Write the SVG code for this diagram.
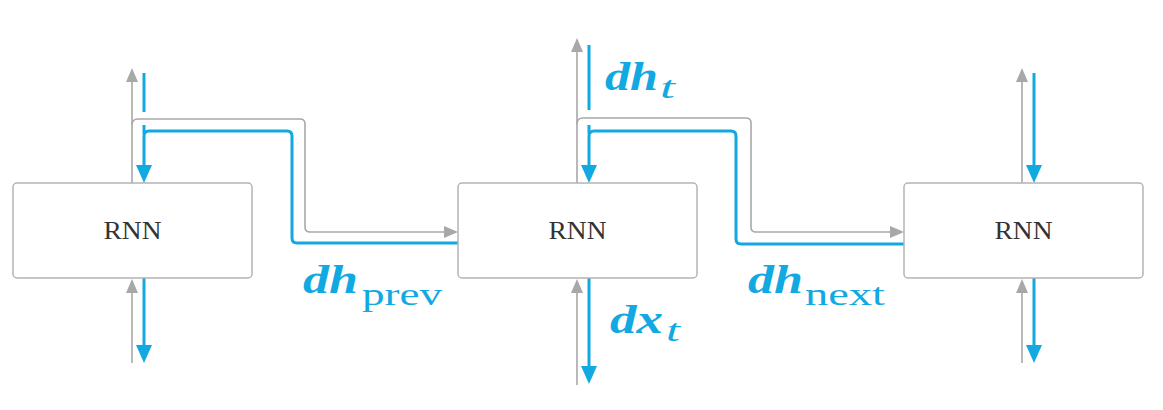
<svg xmlns="http://www.w3.org/2000/svg" width="1163" height="410" viewBox="0 0 1163 410">
<defs>
<marker id="ab" markerUnits="userSpaceOnUse" markerWidth="20" markerHeight="18" refX="1" refY="8" orient="auto"><path d="M0,0 L18,8 L0,16 Z" fill="#12A9E2"/></marker>
<marker id="ag" markerUnits="userSpaceOnUse" markerWidth="16" markerHeight="14" refX="1" refY="6" orient="auto"><path d="M0,0 L14,6 L0,12 Z" fill="#A8A8A8"/></marker>
</defs>
<style>
.box{fill:#fff;stroke:#B4B4B4;stroke-width:1.5}
.lbl{font-family:"Liberation Serif",serif;font-size:26px;fill:#333;text-anchor:middle}
.g{fill:none;stroke:#A8A8A8;stroke-width:1.6}
.b{fill:none;stroke:#12A9E2;stroke-width:3}
.gm{marker-end:url(#ag)}
.bm{marker-end:url(#ab)}
.m{font-family:"Liberation Serif",serif;font-size:40px;font-weight:bold;font-style:italic;fill:#12A9E2}
.s{font-family:"Liberation Serif",serif;font-size:31px;fill:#12A9E2}
.si{font-style:italic}
</style>
<rect width="1163" height="410" fill="#fff"/>
<g id="connectors">
<line class="g gm" x1="132" y1="183" x2="132" y2="81"/>
<line class="b" x1="144" y1="73" x2="144" y2="112"/>
<path class="g" d="M132,125 Q132,119 138,119 H300 Q305,119 305,124 V227 Q305,232 310,232 H445" marker-end="url(#ag)"/>
<path class="b" d="M458,243 H297 Q292,243 292,238 V136 Q292,131 287,131 H149 Q144,131 144,136 V166" marker-end="url(#ab)"/>
<line class="b" x1="144" y1="125" x2="144" y2="134"/>
<line class="g gm" x1="132" y1="363" x2="132" y2="292"/>
<line class="b bm" x1="144" y1="278" x2="144" y2="346"/>

<line class="g gm" x1="577" y1="183" x2="577" y2="51"/>
<line class="b" x1="589" y1="45" x2="589" y2="110"/>
<path class="g" d="M577,124 Q577,118 583,118 H746 Q751,118 751,123 V227 Q751,232 756,232 H891" marker-end="url(#ag)"/>
<path class="b" d="M904,244 H741 Q736,244 736,239 V136 Q736,131 731,131 H594 Q589,131 589,136 V166" marker-end="url(#ab)"/>
<line class="b" x1="589" y1="125" x2="589" y2="134"/>
<line class="g gm" x1="577" y1="385" x2="577" y2="292"/>
<line class="b bm" x1="589" y1="278" x2="589" y2="367"/>

<line class="g gm" x1="1022" y1="183" x2="1022" y2="81"/>
<line class="b bm" x1="1034" y1="73" x2="1034" y2="166"/>
<line class="g gm" x1="1022" y1="363" x2="1022" y2="292"/>
<line class="b bm" x1="1034" y1="278" x2="1034" y2="346"/>
</g>
<g id="rnn1"><rect class="box" x="13" y="183" width="239" height="95" rx="4"/><text class="lbl" x="132.5" y="239" textLength="58" lengthAdjust="spacingAndGlyphs">RNN</text></g>
<g id="rnn2"><rect class="box" x="458" y="183" width="239" height="95" rx="4"/><text class="lbl" x="577.5" y="239" textLength="58" lengthAdjust="spacingAndGlyphs">RNN</text></g>
<g id="rnn3"><rect class="box" x="904" y="183" width="239" height="95" rx="4"/><text class="lbl" x="1023.5" y="239" textLength="58" lengthAdjust="spacingAndGlyphs">RNN</text></g>
<g id="labels">
<text class="m" x="605" y="90" textLength="53" lengthAdjust="spacingAndGlyphs">dh</text>
<text class="s si" x="660" y="98" textLength="15" lengthAdjust="spacingAndGlyphs">t</text>
<text class="m" x="610" y="333" textLength="53" lengthAdjust="spacingAndGlyphs">dx</text>
<text class="s si" x="666" y="341" textLength="14" lengthAdjust="spacingAndGlyphs">t</text>
<text class="m" x="303" y="293" textLength="55" lengthAdjust="spacingAndGlyphs">dh</text>
<text class="s" x="362" y="305" textLength="80" lengthAdjust="spacingAndGlyphs">prev</text>
<text class="m" x="748" y="293" textLength="55" lengthAdjust="spacingAndGlyphs">dh</text>
<text class="s" x="805" y="305" textLength="80" lengthAdjust="spacingAndGlyphs">next</text>
</g>
</svg>
